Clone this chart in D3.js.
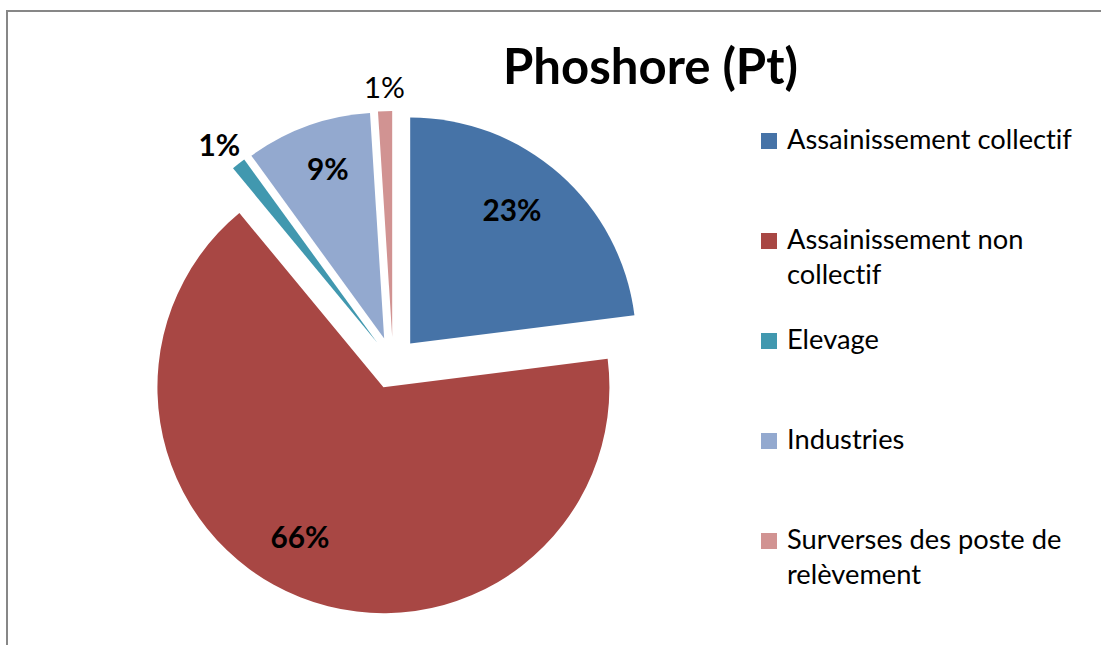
<!DOCTYPE html>
<html>
<head>
<meta charset="utf-8">
<script src="https://cdn.jsdelivr.net/npm/d3@7"></script>
<style>
  html, body { margin: 0; padding: 0; background: #fff; }
  svg { display: block; }
  text { font-family: Lato, "Open Sans", "DejaVu Sans", sans-serif; font-variant-ligatures: none; font-feature-settings: "liga" 0, "clig" 0, "calt" 0, "dlig" 0; text-rendering: optimizeSpeed; }
</style>
</head>
<body>
<svg id="chart" width="1101" height="645"></svg>
<script>
// ---- data ----
const title = "Phoshore (Pt)";
const categories = [
  "Assainissement collectif",
  "Assainissement non collectif",
  "Elevage",
  "Industries",
  "Surverses des poste de relèvement"
];
const values = [23, 66, 1, 9, 1];
const valueLabels = ["23%", "66%", "1%", "9%", "1%"];

// ---- styling / layout ----
const colors = ["#4673A7", "#A84744", "#4198AF", "#93A9CF", "#D19392"];
const labelBold = [true, true, true, true, false];
const labelRadiusRatio = [0.743, 0.76, 1.118, 0.79, 1.106];
const labelAngleNudgeDeg = [-4.1, 7.5, -0.8, 1.4, 0];

const W = 1101, H = 645;
const cx = 393, cy = 363, R = 226, explode = 26;

const svg = d3.select("#chart");

// frame
svg.append("rect")
  .attr("x", 7).attr("y", 11)
  .attr("width", 1200).attr("height", 700)
  .attr("fill", "none").attr("stroke", "#878787").attr("stroke-width", 2);

// helper: fit font-size so a text reaches target width
function fitSize(str, weight, targetW) {
  const t = svg.append("text").attr("font-size", 100).attr("font-weight", weight).text(str);
  const w = t.node().getComputedTextLength();
  t.remove();
  return 100 * targetW / w;
}

// title
const titleSize = fitSize(title, "bold", 295);
svg.append("text")
  .attr("x", 650.5).attr("y", 83.5)
  .attr("text-anchor", "middle")
  .attr("font-size", titleSize)
  .attr("font-weight", "bold")
  .attr("fill", "#000")
  .text(title);

// pie
const pie = d3.pie().sort(null).value(d => d).startAngle(0).endAngle(2 * Math.PI);
const arcs = pie(values);
const arc = d3.arc().innerRadius(0).outerRadius(R);

const g = svg.append("g").attr("transform", `translate(${cx},${cy})`);

const slices = g.selectAll("g.slice").data(arcs).enter().append("g")
  .attr("class", "slice")
  .attr("transform", d => {
    const m = (d.startAngle + d.endAngle) / 2;
    return `translate(${explode * Math.sin(m)},${-explode * Math.cos(m)})`;
  });

slices.append("path")
  .attr("d", arc)
  .attr("fill", (d, i) => colors[i]);

// labels
const labelSize = fitSize("23%", "bold", 59);
slices.append("text")
  .attr("transform", (d, i) => {
    const m = (d.startAngle + d.endAngle) / 2 + labelAngleNudgeDeg[i] * Math.PI / 180;
    const rr = R * labelRadiusRatio[i];
    return `translate(${rr * Math.sin(m)},${-rr * Math.cos(m)})`;
  })
  .attr("text-anchor", "middle")
  .attr("dy", "0.36em")
  .attr("font-size", labelSize)
  .attr("font-weight", (d, i) => labelBold[i] ? "bold" : "normal")
  .attr("fill", "#000")
  .text((d, i) => valueLabels[i]);

// legend
const legendSize = fitSize(categories[0], "normal", 285);
const legX = 761, legY0 = 133, legStep = 100, sw = 16, lineH = 35, textX = 787, maxW = 292;

function wrap(str) {
  const words = str.split(" ");
  const lines = [];
  let cur = "";
  const t = svg.append("text").attr("font-size", legendSize);
  words.forEach(w => {
    const test = cur ? cur + " " + w : w;
    t.text(test);
    if (t.node().getComputedTextLength() > maxW && cur) {
      lines.push(cur);
      cur = w;
    } else cur = test;
  });
  if (cur) lines.push(cur);
  t.remove();
  return lines;
}

const leg = svg.append("g");
categories.forEach((c, i) => {
  const y = legY0 + i * legStep;
  leg.append("rect")
    .attr("x", legX).attr("y", y)
    .attr("width", sw).attr("height", sw)
    .attr("fill", colors[i]);
  const t = leg.append("text")
    .attr("x", textX).attr("y", y + sw)
    .attr("font-size", legendSize)
    .attr("fill", "#000");
  wrap(c).forEach((line, j) => {
    t.append("tspan").attr("x", textX).attr("y", y + sw + j * lineH).text(line);
  });
});
</script>
</body>
</html>
